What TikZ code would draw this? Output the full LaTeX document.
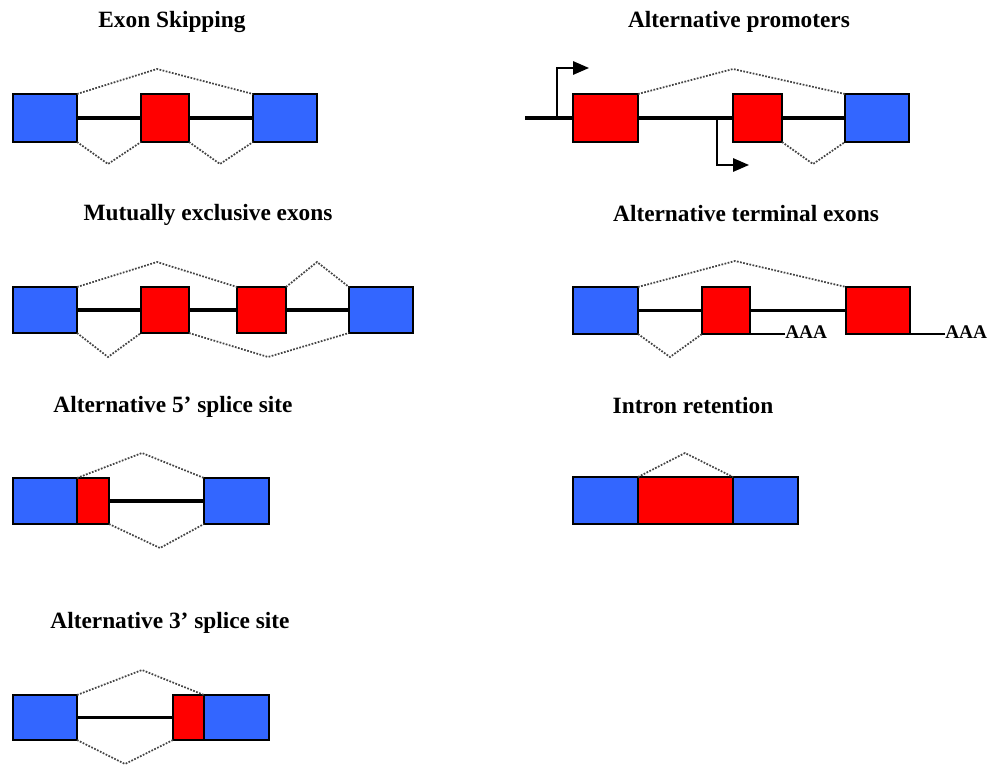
\documentclass[tikz,border=0pt]{standalone}
\usepackage{fontspec}
\setmainfont{Liberation Serif}
\usetikzlibrary{arrows.meta}
\definecolor{exblue}{HTML}{3366FF}
\definecolor{exred}{HTML}{FF0000}
\definecolor{dotgray}{HTML}{444444}
\newcommand\exonrect[6]{\node[exon,fill=#6,minimum width={(#4-#2)*0.75pt},minimum height={(#5-#3)*0.75pt},anchor=north west] (#1) at (#2,#3) {};}
\begin{document}
\begin{tikzpicture}[x=0.75pt,y=-0.75pt,
 exon/.style={draw=black,line width=1.2pt,inner sep=0pt,outer sep=0pt},
 intron/.style={line width=2.3pt,black},
 splice/.style={dotgray,line width=1.3pt,dash pattern=on 1.3pt off 1.1pt},
 title/.style={font=\fontsize{17.5}{20}\selectfont\bfseries,anchor=base,inner sep=0pt},
 polya/.style={font=\fontsize{14.5}{16}\selectfont\bfseries,anchor=base west,inner sep=0pt},
 tail/.style={line width=0.9pt,black},
 promoter/.style={line width=1.5pt,black,-{Triangle[length=12pt,width=10pt]}}]
\useasboundingbox[fill=white] (0,0) rectangle (989,767);

% ---------- Exon Skipping ----------
\node[title] (t1) at (172,28) {Exon Skipping};
\exonrect{a1}{13}{94}{77}{142}{exblue}
\exonrect{a2}{141}{94}{189}{142}{exred}
\exonrect{a3}{253}{94}{317}{142}{exblue}
\draw[intron] (a1.east) -- (a2.west);
\draw[intron] (a2.east) -- (a3.west);
\coordinate (a1top) at (157,69);
\coordinate (a1b1) at (108,164);
\coordinate (a1b2) at (220,164);
\draw[splice] (a1.north east) -- (a1top) -- (a3.north west);
\draw[splice] (a1.south east) -- (a1b1) -- (a2.south west);
\draw[splice] (a2.south east) -- (a1b2) -- (a3.south west);

% ---------- Alternative promoters ----------
\node[title] (t2) at (739,28) {Alternative promoters};
\exonrect{b1}{573}{94}{638}{142}{exred}
\exonrect{b2}{733}{94}{782}{142}{exred}
\exonrect{b3}{845}{94}{909}{142}{exblue}
\coordinate (b0) at (525,118);
\draw[intron] (b0) -- (b1.west);
\draw[intron] (b1.east) -- (b2.west);
\draw[intron] (b2.east) -- (b3.west);
\coordinate (bp1) at (557,118);
\coordinate (bp1tip) at (589,68);
\coordinate (bp2) at (717,118);
\coordinate (bp2tip) at (749,165);
\draw[promoter] (bp1) |- (bp1tip);
\draw[promoter] (bp2) |- (bp2tip);
\coordinate (btop) at (733,69);
\coordinate (bbot) at (813,164);
\draw[splice] (b1.north east) -- (btop) -- (b3.north west);
\draw[splice] (b2.south east) -- (bbot) -- (b3.south west);

% ---------- Mutually exclusive exons ----------
\node[title] (t3) at (208,220) {Mutually exclusive exons};
\exonrect{c1}{13}{287}{77}{333}{exblue}
\exonrect{c2}{141}{287}{189}{333}{exred}
\exonrect{c3}{237}{287}{286}{333}{exred}
\exonrect{c4}{349}{287}{413}{333}{exblue}
\draw[intron] (c1.east) -- (c2.west);
\draw[intron] (c2.east) -- (c3.west);
\draw[intron] (c3.east) -- (c4.west);
\coordinate (ct1) at (157,262);
\coordinate (ct2) at (317,262);
\coordinate (cb1) at (108,357);
\coordinate (cb2) at (268,357);
\draw[splice] (c1.north east) -- (ct1) -- (c3.north west);
\draw[splice] (c3.north east) -- (ct2) -- (c4.north west);
\draw[splice] (c1.south east) -- (cb1) -- (c2.south west);
\draw[splice] (c2.south east) -- (cb2) -- (c4.south west);

% ---------- Alternative terminal exons ----------
\node[title] (t4) at (746,221) {Alternative terminal exons};
\exonrect{d1}{573}{287}{638}{334}{exblue}
\exonrect{d2}{702}{287}{750}{334}{exred}
\exonrect{d3}{846}{287}{910}{334}{exred}
\draw[intron] (d1.east) -- (d2.west);
\draw[intron] (d2.east) -- (d3.west);
\coordinate (dtop) at (735,261);
\coordinate (dbot) at (670,357);
\draw[splice] (d1.north east) -- (dtop) -- (d3.north west);
\draw[splice] (d1.south east) -- (dbot) -- (d2.south west);
\node[polya] (aaa1) at (785,338) {AAA};
\node[polya] (aaa2) at (945,338) {AAA};
\draw[tail] (d2.south east) -- (aaa1.west |- d2.south east);
\draw[tail] (d3.south east) -- (aaa2.west |- d3.south east);

% ---------- Alternative 5' splice site ----------
\node[title] (t5) at (173,412) {Alternative 5’ splice site};
\exonrect{e1}{13}{478}{77}{524}{exblue}
\exonrect{e2}{77}{478}{109}{524}{exred}
\exonrect{e3}{204}{478}{269}{524}{exblue}
\draw[intron] (e2.east) -- (e3.west);
\coordinate (etop) at (142,453);
\coordinate (ebot) at (160,548);
\draw[splice] (e1.north east) -- (etop) -- (e3.north west);
\draw[splice] (e2.south east) -- (ebot) -- (e3.south west);

% ---------- Intron retention ----------
\node[title] (t6) at (693,413) {Intron retention};
\exonrect{f1}{573}{477}{638}{524}{exblue}
\exonrect{f2}{638}{477}{733}{524}{exred}
\exonrect{f3}{733}{477}{798}{524}{exblue}
\coordinate (ftop) at (685,453);
\draw[splice] (f2.north west) -- (ftop) -- (f2.north east);

% ---------- Alternative 3' splice site ----------
\node[title] (t7) at (170,628) {Alternative 3’ splice site};
\exonrect{g1}{13}{695}{77}{740}{exblue}
\exonrect{g2}{173}{695}{204}{740}{exred}
\exonrect{g3}{204}{695}{269}{740}{exblue}
\draw[intron] (g1.east) -- (g2.west);
\coordinate (gtop) at (142,670);
\coordinate (gbot) at (125,764);
\draw[splice] (g1.north east) -- (gtop) -- (g3.north west);
\draw[splice] (g1.south east) -- (gbot) -- (g2.south west);
\end{tikzpicture}
\end{document}
